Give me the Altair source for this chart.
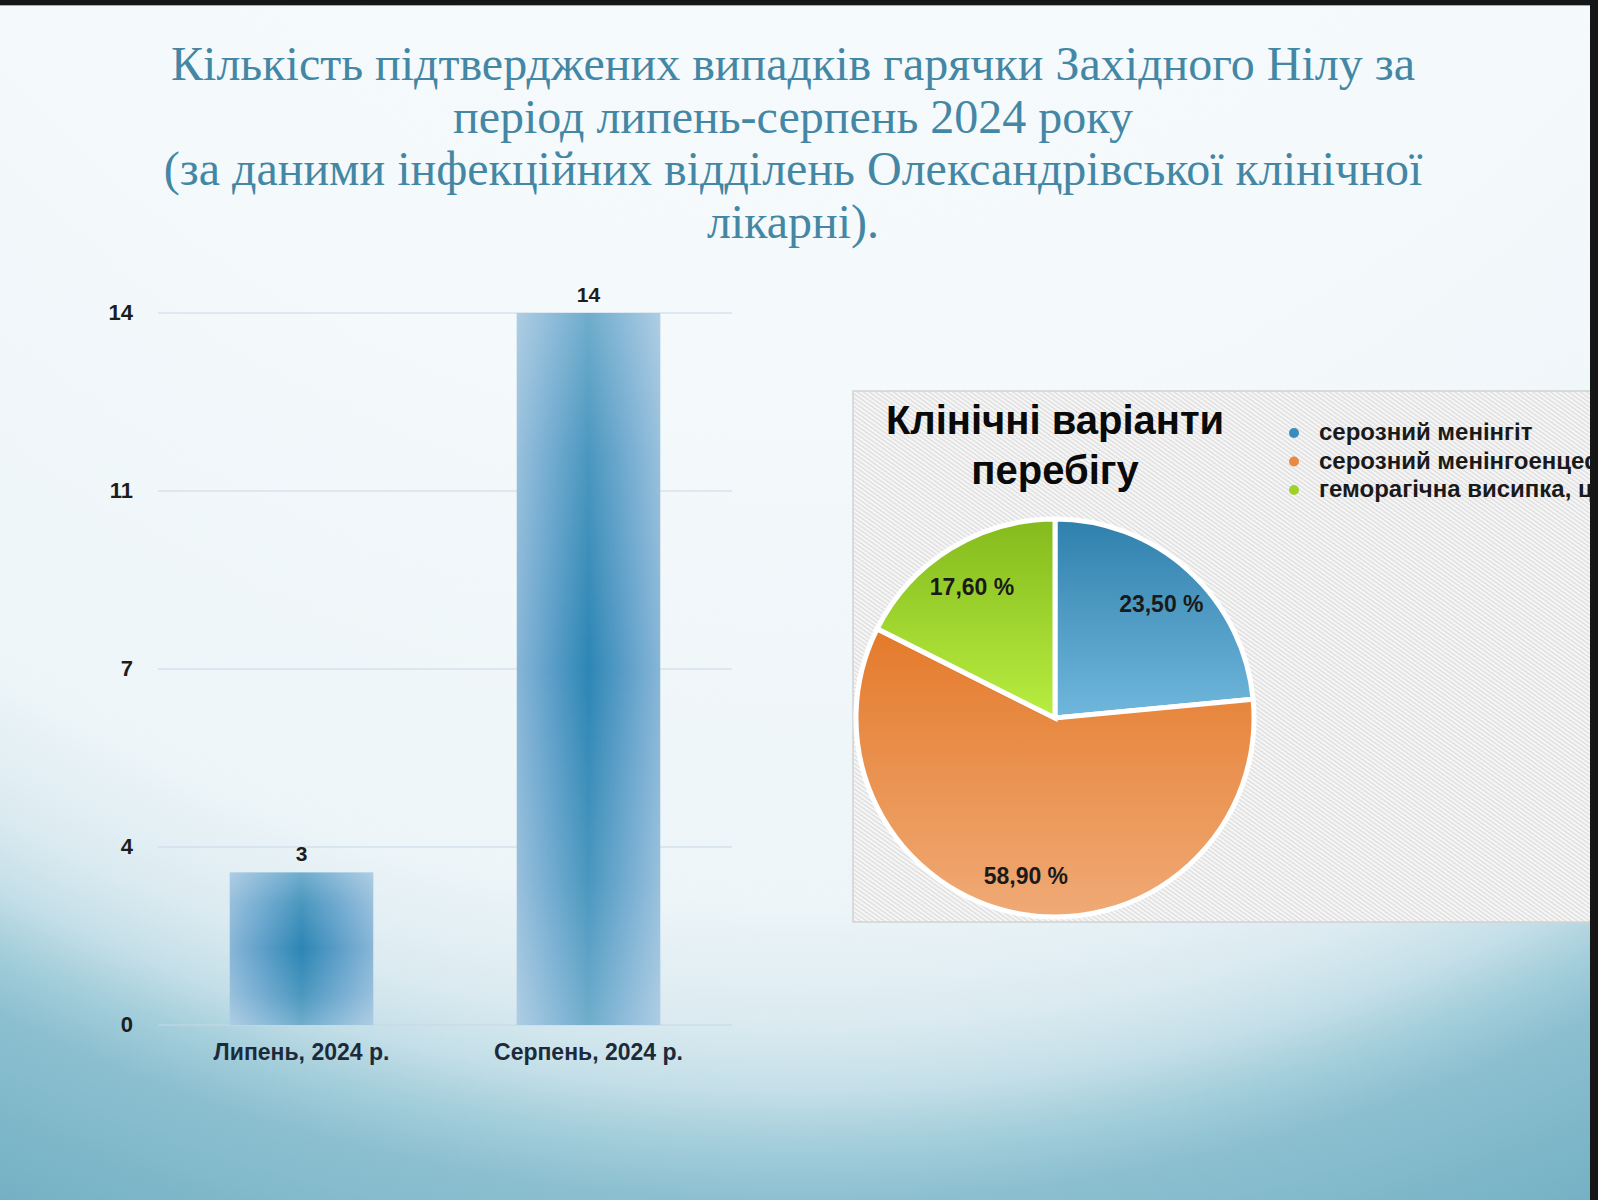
import altair as alt
import pandas as pd

# ---------------- data ----------------
title_lines = [
    "Кількість підтверджених випадків гарячки Західного Нілу за",
    "період липень-серпень 2024 року",
    "(за даними інфекційних відділень Олександрівської клінічної",
    "лікарні).",
]
months = ["Липень, 2024 р.", "Серпень, 2024 р."]
cases = [3, 14]
tick_values = [0, 3.5, 7, 10.5, 14]
tick_labels = ["0", "4", "7", "11", "14"]

pie_title = ["Клінічні варіанти", "перебігу"]
variants = ["серозний менінгіт", "серозний менінгоенцефаліт", "геморагічна висипка, ц"]
shares = [23.5, 58.9, 17.6]
share_labels = ["23,50 %", "58,90 %", "17,60 %"]

# ---------------- styles ----------------
W, H = 1598, 1200
SANS = "Liberation Sans"
SERIF = "Liberation Serif"

bar_df = pd.DataFrame({"month": months, "cases": cases})
tick_df = pd.DataFrame({"v": tick_values, "label": tick_labels})
pie_df = pd.DataFrame({"variant": variants, "share": shares,
                       "label": share_labels, "order": list(range(len(variants)))})
one = pd.DataFrame({"a": [0]})

bg_grad = {
    "gradient": "radial", "x1": 0.5, "y1": 0.5, "r1": 0, "x2": 0.5, "y2": 0.5, "r2": 0.5,
    "stops": [
        {"offset": 0.0, "color": "#f8fbfd"},
        {"offset": 0.5, "color": "#f4f9fb"},
        {"offset": 0.75, "color": "#edf5f8"},
        {"offset": 0.81, "color": "#dcebf1"},
        {"offset": 0.845, "color": "#c4dfe8"},
        {"offset": 0.87, "color": "#a6cfdc"},
        {"offset": 0.9, "color": "#8cc0d0"},
        {"offset": 1.0, "color": "#70adc2"},
    ],
}
bar_grad_h = {
    "gradient": "linear", "x1": 0, "y1": 0, "x2": 1, "y2": 0,
    "stops": [
        {"offset": 0.0, "color": "#88b6d7"},
        {"offset": 0.25, "color": "#5a9dc8"},
        {"offset": 0.5, "color": "#2c86b4"},
        {"offset": 0.75, "color": "#5a9dc8"},
        {"offset": 1.0, "color": "#88b6d7"},
    ],
}
bar_grad_v = {
    "gradient": "linear", "x1": 0, "y1": 0, "x2": 0, "y2": 1,
    "stops": [
        {"offset": 0.0, "color": "rgba(255,255,255,0.32)"},
        {"offset": 0.2, "color": "rgba(255,255,255,0.14)"},
        {"offset": 0.5, "color": "rgba(255,255,255,0)"},
        {"offset": 0.8, "color": "rgba(255,255,255,0.14)"},
        {"offset": 1.0, "color": "rgba(255,255,255,0.32)"},
    ],
}
n_hatch = 250
hatch_stops = []
for k in range(n_hatch):
    hatch_stops.append({"offset": k / n_hatch, "color": "#fbfbfb"})
    hatch_stops.append({"offset": (k + 0.5) / n_hatch, "color": "#dedede"})
hatch_stops.append({"offset": 1.0, "color": "#fbfbfb"})
hatch_grad = {"gradient": "linear", "x1": 0, "y1": 1, "x2": 1, "y2": 0, "stops": hatch_stops}


def vgrad(c1, c2):
    return {"gradient": "linear", "x1": 0, "y1": 0, "x2": 0, "y2": 1,
            "stops": [{"offset": 0, "color": c1}, {"offset": 1, "color": c2}]}


blue_g = vgrad("#2f80ad", "#70b7dc")
orange_g = vgrad("#e47a2a", "#f0aa76")
green_g = vgrad("#84ba1c", "#b8ee40")
dot_colors = ["#3a8cba", "#ea8a42", "#9fd12a"]

# ---------------- background ----------------
bg = alt.Chart(one).mark_rect(fill=bg_grad).encode(
    x=alt.value(-1200), x2=alt.value(2800), y=alt.value(-2600), y2=alt.value(1400))
top_strip = alt.Chart(one).mark_rect(fill="#161616").encode(
    x=alt.value(0), x2=alt.value(W), y=alt.value(0), y2=alt.value(5))
top_line = alt.Chart(one).mark_rect(fill="#a8acae").encode(
    x=alt.value(0), x2=alt.value(W), y=alt.value(5), y2=alt.value(6))
right_strip = alt.Chart(one).mark_rect(fill="#161616").encode(
    x=alt.value(1590), x2=alt.value(W), y=alt.value(0), y2=alt.value(H))

title = alt.Chart(one).mark_text(
    font=SERIF, fontSize=48, color="#4487a5", align="center", baseline="alphabetic",
    lineHeight=52.5,
).encode(x=alt.value(793), y=alt.value(80), text=alt.value(title_lines))

# ---------------- bar chart ----------------
x_scale = alt.Scale(domain=months, range=[158, 732], paddingInner=0.5, paddingOuter=0.25)
y_scale = alt.Scale(domain=[0, 14], range=[1025, 313], nice=False, zero=False)

grid = alt.Chart(tick_df).mark_rule(color="#c7d7e6", strokeWidth=1.2).encode(
    y=alt.Y("v:Q", scale=y_scale, axis=None), x=alt.value(158), x2=alt.value(732))
tick_text = alt.Chart(tick_df).mark_text(
    font=SANS, fontWeight="bold", fontSize=22, color="#1d1d1d", align="right", baseline="middle"
).encode(y=alt.Y("v:Q", scale=y_scale, axis=None), x=alt.value(133), text="label:N")

bars = alt.Chart(bar_df).mark_bar(fill=bar_grad_h).encode(
    x=alt.X("month:N", scale=x_scale, axis=None),
    y=alt.Y("cases:Q", scale=y_scale, axis=None),
)
bars_shade = alt.Chart(bar_df).mark_bar(fill=bar_grad_v).encode(
    x=alt.X("month:N", scale=x_scale, axis=None),
    y=alt.Y("cases:Q", scale=y_scale, axis=None),
)
values = alt.Chart(bar_df).mark_text(
    font=SANS, fontWeight="bold", fontSize=21, color="#1d1d1d", baseline="middle", dy=-17
).encode(
    x=alt.X("month:N", scale=x_scale, axis=None),
    y=alt.Y("cases:Q", scale=y_scale, axis=None),
    text="cases:Q",
)
xlabels = alt.Chart(bar_df).transform_calculate(zero="0").mark_text(
    font=SANS, fontWeight="bold", fontSize=23, color="#1d2a3a", baseline="middle", dy=28
).encode(
    x=alt.X("month:N", scale=x_scale, axis=None),
    y=alt.Y("zero:Q", scale=y_scale, axis=None),
    text="month:N",
)
bar_layer = alt.layer(grid, tick_text, bars, bars_shade, values, xlabels)

# ---------------- pie chart ----------------
box = alt.Chart(one).mark_rect(fill=hatch_grad, stroke="#d2d2d2", strokeWidth=1.5).encode(
    x=alt.value(853), x2=alt.value(1600), y=alt.value(391), y2=alt.value(922))

theta_scale = alt.Scale(domain=[0, 100], range=[0, 6.283185307179586])
pie_base = alt.Chart(pie_df).transform_window(
    cum="sum(share)", sort=[alt.SortField("order")], frame=[None, 0]
).transform_calculate(
    start="datum.cum - datum.share", mid="datum.cum - datum.share / 2"
)
arcs = pie_base.mark_arc(outerRadius=199, stroke="white", strokeWidth=5).encode(
    theta=alt.Theta("start:Q", scale=theta_scale),
    theta2="cum:Q",
    x=alt.value(1055), y=alt.value(718),
    fill={"condition": [{"test": "datum.order == 0", "value": blue_g},
                        {"test": "datum.order == 1", "value": orange_g}],
          "value": green_g},
)
pie_labels = pie_base.mark_text(
    radius=158, font=SANS, fontWeight="bold", fontSize=23, color="#1a1a1a", dy=4
).encode(
    theta=alt.Theta("mid:Q", scale=theta_scale),
    x=alt.value(1055), y=alt.value(718),
    text="label:N",
)
pie_layer = alt.layer(arcs, pie_labels)

pie_title_mark = alt.Chart(one).mark_text(
    font=SANS, fontWeight="bold", fontSize=40, color="#0a0a0a", align="center",
    baseline="alphabetic", lineHeight=50,
).encode(x=alt.value(1055), y=alt.value(434), text=alt.value(pie_title))

leg_y = alt.Scale(type="point", domain=[0, 1, 2], range=[433, 490], padding=0)
leg_dots = alt.Chart(pie_df).mark_circle(size=100, opacity=1).encode(
    x=alt.value(1294),
    y=alt.Y("order:O", scale=leg_y, axis=None),
    color=alt.Color("variant:N", scale=alt.Scale(domain=variants, range=dot_colors), legend=None),
)
leg_text = alt.Chart(pie_df).mark_text(
    font=SANS, fontWeight="bold", fontSize=24, color="#1a1a1a", align="left",
    baseline="middle",
).encode(
    x=alt.value(1319),
    y=alt.Y("order:O", scale=leg_y, axis=None),
    text="variant:N",
)
legend_layer = alt.layer(leg_dots, leg_text)

chart = alt.layer(
    bg, top_strip, top_line, title, bar_layer, box, pie_layer, pie_title_mark,
    legend_layer, right_strip,
).resolve_scale(
    x="independent", y="independent", theta="independent", color="independent"
).properties(
    width=W, height=H, autosize=alt.AutoSizeParams(type="none"), padding=0,
).configure_view(stroke=None).configure(background="#ffffff")

chart.save("out.html", embed_options={"renderer": "svg", "actions": False})
